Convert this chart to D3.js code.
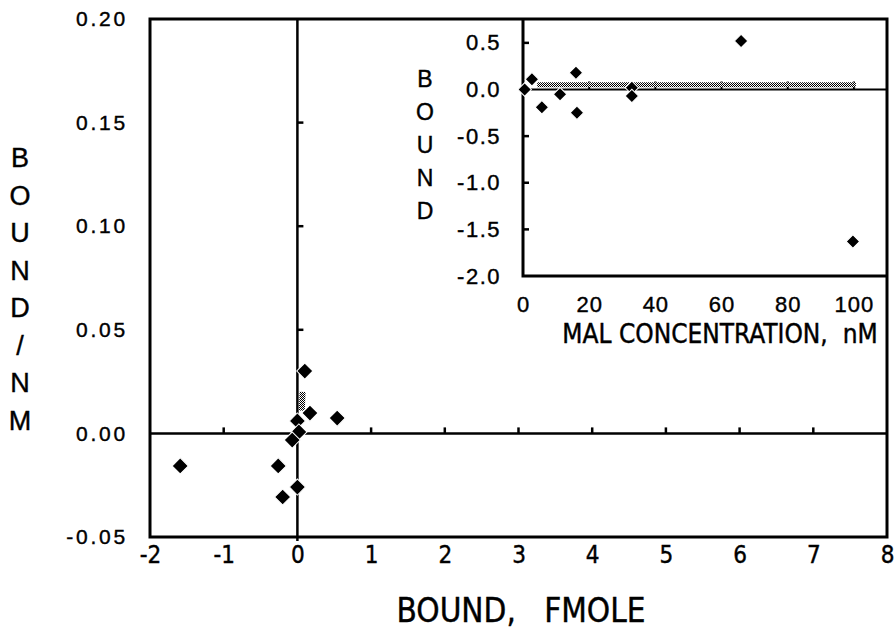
<!DOCTYPE html>
<html>
<head>
<meta charset="utf-8">
<title>Bound vs Bound/nM</title>
<script src="https://d3js.org/d3.v7.min.js"></script>
<style>
  body { margin: 0; background: #fff; }
  text { fill: #000; stroke: #000; stroke-width: 0.4px; }
</style>
</head>
<body>
<div id="chart"></div>
<script>
// main plot (bound vs bound/nM)
var boundX  = [0.10, 0.17, 0.00, 0.02, -0.07, 0.54, -1.59, -0.26, 0.00, -0.20];
var boundNM = [0.0301, 0.0098, 0.0060, 0.0007, -0.0032, 0.0074, -0.0157, -0.0157, -0.0259, -0.0307];
var fitX = [0.06, 0.07];
var fitY = [0.011, 0.020];
var xTicks = [-2, -1, 0, 1, 2, 3, 4, 5, 6, 7, 8];
var yTicks = [-0.05, 0.00, 0.05, 0.10, 0.15, 0.20];

// inset (MAL concentration vs bound)
var malConc  = [0.5, 2.7, 5.7, 11.2, 16.0, 16.3, 32.9, 32.9, 65.9, 99.7];
var malBound = [0.00, 0.11, -0.19, -0.05, 0.18, -0.25, 0.02, -0.07, 0.52, -1.63];
var insetFitX = [4.3, 100.6];
var insetFitY = [0.05, 0.05];
var insetXTicks = [0, 20, 40, 60, 80, 100];
var insetYTicks = [0.5, 0.0, -0.5, -1.0, -1.5, -2.0];

var W = 895, H = 639;
var regular = "'Liberation Sans', Arial, Helvetica, sans-serif";
var narrow = "'Liberation Sans Narrow', 'Arial Narrow', 'DejaVu Sans Condensed', sans-serif";

var svg = d3.select("#chart").append("svg")
  .attr("width", W).attr("height", H);

var defs = svg.append("defs");
var pat = defs.append("pattern")
  .attr("id", "hatch")
  .attr("width", 2).attr("height", 2)
  .attr("patternUnits", "userSpaceOnUse");
pat.append("rect").attr("width", 2).attr("height", 2).attr("fill", "#fff");
pat.append("rect").attr("width", 1).attr("height", 1).attr("fill", "#000");
pat.append("rect").attr("x", 1).attr("y", 1).attr("width", 1).attr("height", 1).attr("fill", "#000");

var x = d3.scaleLinear().domain([-2, 8]).range([150, 887]);
var y = d3.scaleLinear().domain([-0.05, 0.20]).range([537, 19]);

var ix = d3.scaleLinear().domain([0, 110]).range([523, 887]);
var iy = d3.scaleLinear().domain([-2, 0.756]).range([276, 19]);

// main frame
svg.append("rect")
  .attr("x", x(-2)).attr("y", y(0.20))
  .attr("width", x(8) - x(-2)).attr("height", y(-0.05) - y(0.20))
  .attr("fill", "none").attr("stroke", "#000").attr("stroke-width", 3);

// zero lines
svg.append("line")
  .attr("x1", x(0)).attr("x2", x(0))
  .attr("y1", y(0.20)).attr("y2", y(-0.05) + 4)
  .attr("stroke", "#000").attr("stroke-width", 2.5);
svg.append("line")
  .attr("x1", x(-2)).attr("x2", x(8))
  .attr("y1", y(0)).attr("y2", y(0))
  .attr("stroke", "#000").attr("stroke-width", 2.5);

// small ticks on the zero lines
svg.selectAll(".xz")
  .data(xTicks.filter(function(d) { return d > -2 && d < 8 && d !== 0; }))
  .enter().append("line")
  .attr("x1", function(d) { return x(d); }).attr("x2", function(d) { return x(d); })
  .attr("y1", y(0)).attr("y2", y(0) - 6)
  .attr("stroke", "#000").attr("stroke-width", 2.5);
svg.selectAll(".yz")
  .data(yTicks.filter(function(d) { return d > 0 && d < 0.2; }))
  .enter().append("line")
  .attr("x1", x(0)).attr("x2", x(0) + 6)
  .attr("y1", function(d) { return y(d); }).attr("y2", function(d) { return y(d); })
  .attr("stroke", "#000").attr("stroke-width", 2.5);

// main axes labels
var gx = svg.append("g")
  .attr("transform", "translate(0," + y(-0.05) + ")")
  .call(d3.axisBottom(x).tickValues(xTicks).tickSize(0).tickPadding(9)
    .tickFormat(function(d) { return String(d); }));
gx.select(".domain").remove();
gx.selectAll("text").attr("font-family", narrow).attr("font-size", 24);

var gy = svg.append("g")
  .attr("transform", "translate(" + x(-2) + ",0)")
  .call(d3.axisLeft(y).tickValues(yTicks).tickSize(0).tickPadding(22)
    .tickFormat(function(d) { return d.toFixed(2); }));
gy.select(".domain").remove();
gy.selectAll("text").attr("font-family", regular).attr("font-size", 21)
  .attr("letter-spacing", 2.8);

svg.append("text")
  .attr("x", 521).attr("y", 622)
  .attr("text-anchor", "middle")
  .attr("font-family", narrow).attr("font-size", 33)
  .attr("xml:space", "preserve")
  .text("BOUND,   FMOLE");

var yLetters = "BOUND/NM".split("");
svg.selectAll(".ylab")
  .data(yLetters)
  .enter().append("text")
  .attr("x", 20)
  .attr("y", function(d, i) { return 158 + i * 37.5; })
  .attr("dy", "0.35em")
  .attr("text-anchor", "middle")
  .attr("font-family", regular).attr("font-size", 27)
  .text(function(d) { return d; });

// inset frame (left and bottom; top/right shared with main frame)
svg.append("path")
  .attr("d", "M" + ix(0) + "," + iy(0.756) + "V" + iy(-2) + "H" + ix(110))
  .attr("fill", "none").attr("stroke", "#000").attr("stroke-width", 3);
svg.append("line")
  .attr("x1", ix(0)).attr("x2", ix(110))
  .attr("y1", iy(0)).attr("y2", iy(0))
  .attr("stroke", "#000").attr("stroke-width", 2);

svg.selectAll(".iyt")
  .data(insetYTicks.filter(function(d) { return d !== 0 && d !== -2; }))
  .enter().append("line")
  .attr("x1", ix(0)).attr("x2", ix(0) + 6)
  .attr("y1", function(d) { return iy(d); }).attr("y2", function(d) { return iy(d); })
  .attr("stroke", "#000").attr("stroke-width", 2.5);
svg.selectAll(".ixt")
  .data(insetXTicks.filter(function(d) { return d > 0; }))
  .enter().append("line")
  .attr("x1", function(d) { return ix(d); }).attr("x2", function(d) { return ix(d); })
  .attr("y1", iy(0)).attr("y2", iy(0) - 8)
  .attr("stroke", "#000").attr("stroke-width", 2);

var gix = svg.append("g")
  .attr("transform", "translate(0," + iy(-2) + ")")
  .call(d3.axisBottom(ix).tickValues(insetXTicks).tickSize(0).tickPadding(20)
    .tickFormat(function(d) { return String(d); }));
gix.select(".domain").remove();
gix.selectAll("text").attr("font-family", regular).attr("font-size", 22)
  .attr("letter-spacing", 1);

var giy = svg.append("g")
  .attr("transform", "translate(" + ix(0) + ",0)")
  .call(d3.axisLeft(iy).tickValues(insetYTicks).tickSize(0).tickPadding(22)
    .tickFormat(function(d) { return d.toFixed(1); }));
giy.select(".domain").remove();
giy.selectAll("text").attr("font-family", regular).attr("font-size", 22)
  .attr("letter-spacing", 1.5);

svg.append("text")
  .attr("x", 720).attr("y", 343)
  .attr("text-anchor", "middle")
  .attr("font-family", narrow).attr("font-size", 26)
  .attr("xml:space", "preserve")
  .text("MAL CONCENTRATION,  nM");

svg.selectAll(".iylab")
  .data("BOUND".split(""))
  .enter().append("text")
  .attr("x", 425)
  .attr("y", function(d, i) { return 79 + i * 33; })
  .attr("dy", "0.35em")
  .attr("text-anchor", "middle")
  .attr("font-family", regular).attr("font-size", 23)
  .text(function(d) { return d; });

// fitted lines (stippled grey)
var fitLine = d3.line()
  .x(function(d) { return x(d[0]); })
  .y(function(d) { return y(d[1]); });
svg.append("path")
  .attr("d", fitLine(d3.zip(fitX, fitY)))
  .attr("fill", "none").attr("stroke", "url(#hatch)").attr("stroke-width", 6);

var insetLine = d3.line()
  .x(function(d) { return ix(d[0]); })
  .y(function(d) { return iy(d[1]); });
svg.append("path")
  .attr("d", insetLine(d3.zip(insetFitX, insetFitY)))
  .attr("fill", "none").attr("stroke", "url(#hatch)").attr("stroke-width", 5);

// diamonds
var bigDiamond = d3.symbol().type(d3.symbolSquare).size(130);
var smallDiamond = d3.symbol().type(d3.symbolSquare).size(90);

svg.selectAll(".pt")
  .data(d3.zip(boundX, boundNM))
  .enter().append("path")
  .attr("d", bigDiamond)
  .attr("transform", function(d) { return "translate(" + x(d[0]) + "," + y(d[1]) + ") rotate(45)"; })
  .attr("fill", "#000").attr("stroke", "#fff").attr("stroke-width", 1);

svg.selectAll(".ipt")
  .data(d3.zip(malConc, malBound))
  .enter().append("path")
  .attr("d", smallDiamond)
  .attr("transform", function(d) { return "translate(" + ix(d[0]) + "," + iy(d[1]) + ") rotate(45)"; })
  .attr("fill", "#000").attr("stroke", "#fff").attr("stroke-width", 1);
</script>
</body>
</html>
